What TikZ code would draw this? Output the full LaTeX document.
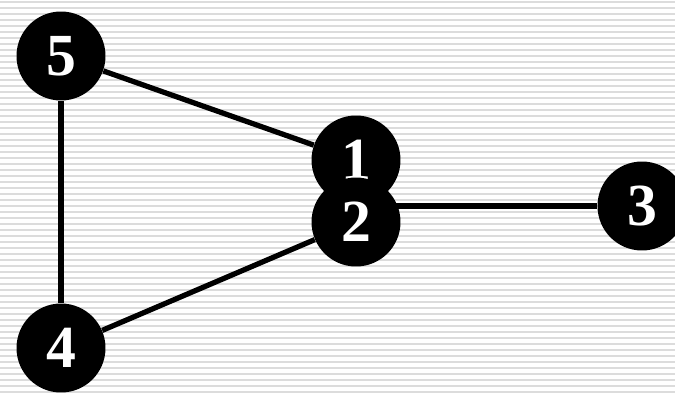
\documentclass[tikz,border=0pt]{standalone}
\usepackage{fontspec}
\setmainfont{Liberation Serif}
\definecolor{stripegray}{RGB}{220,220,220}

\tikzset{
  vertex/.style={circle, fill=black, minimum size=1.78cm, inner sep=0pt,
    text=white, font=\fontsize{34}{36}\selectfont\bfseries},
  edge/.style={line width=3pt}
}

\begin{document}
\begin{tikzpicture}[x=0.02cm,y=-0.02cm]

% Background
\fill[white] (0,0) rectangle (675,392);
\useasboundingbox (0,0) rectangle (675,392);

% Stripes
\foreach \y in {2,8,...,392} {
    \draw[stripegray, line width=1pt] (0,\y) -- (675,\y);
}

% Vertices
\node[vertex] (n5) at (61,56) {5};
\node[vertex] (n4) at (61,348) {4};
\node[vertex] (n1) at (356,160) {1};
\node[vertex] (n2) at (356,222) {2};
\node[vertex] (n3) at (642,206) {3};

% Edges
\draw[edge] (n5) -- (n1);
\draw[edge] (n5) -- (n4);
\draw[edge] (n4) -- (n2);
\draw[edge, shorten >=-0.15cm] (n3.west) -- (n3.west -| n2.east);

\end{tikzpicture}
\end{document}
